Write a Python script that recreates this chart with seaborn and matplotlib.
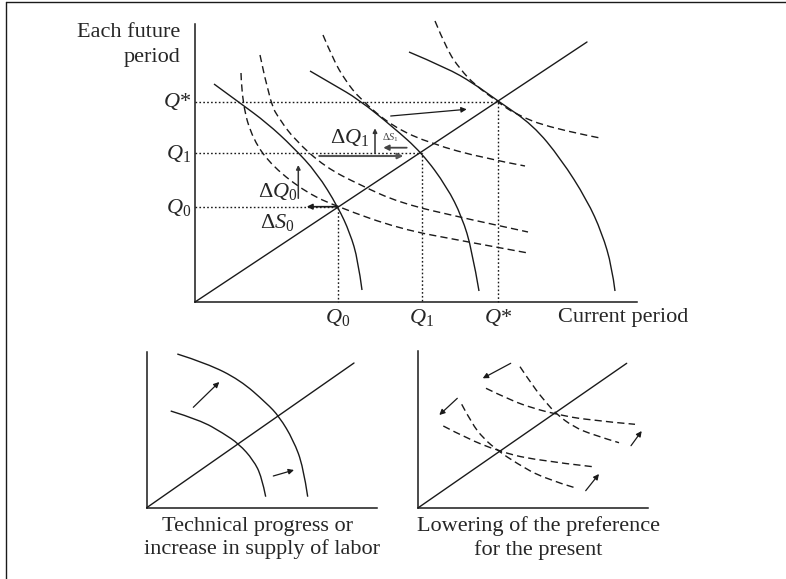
import numpy as np
import matplotlib
matplotlib.use('Agg')
import matplotlib.pyplot as plt
import seaborn as sns
from matplotlib.path import Path
from matplotlib.patches import PathPatch
from matplotlib.lines import Line2D

# ---- main panel (units = px from the origin) ----
diag_main = [(0, 0), (392, 260)]
eq_x = [143, 227, 303]          # Q0, Q1, Q*
eq_y = [94.7, 149.3, 200.5]
eq_labels = [r'$Q_0$', r'$Q_1$', r'$Q$*']

ppf1 = [(19, 218), (45, 199), (72, 179), (98, 155), (122, 129), (143, 95), (155, 69), (163, 42), (167, 12)]
ppf2 = [(115, 231), (139, 217), (163, 203), (198, 175), (227, 149), (252, 115), (267, 85), (277, 52), (284, 11)]
ppf3 = [(214, 250), (252, 234), (278, 219), (303, 201), (338, 177), (366, 143), (392, 102), (407, 69), (417, 35), (420, 11)]

ic_a = [(46, 229), (47, 199), (58, 162), (78, 135), (112, 109), (143, 95), (205, 73), (268, 61), (333, 49)]
ic_b = [(65, 247), (75, 199), (85, 182), (100, 162), (130, 135), (165, 117), (205, 99), (268, 84), (333, 70)]
ic_c = [(128, 267), (138, 243), (150, 222), (165, 203), (198, 175), (237, 158), (288, 144), (330, 136)]
ic_d = [(240, 281), (252, 252), (265, 233), (280, 217), (303, 200), (320, 188), (355, 174), (405, 164)]

# ---- bottom left: technical progress ----
diag_bl = [(0, 0), (207.3, 144.7)]
ppf_bl_in = [(24, 96.7), (53.3, 87.7), (76.6, 74.4), (92.3, 63.7), (106.6, 47.7), (115, 31), (119, 11)]
ppf_bl_out = [(30.6, 153.7), (60, 144.4), (93.3, 127.7), (120, 104.4), (132.6, 91), (146.6, 67.7), (156.6, 41), (161, 11)]
arrows_bl = [((46.6, 100.4), (72.6, 125.7)), ((126.6, 31.7), (147.3, 37.7))]

# ---- bottom right: lower preference for the present ----
diag_br = [(0, 0), (208.4, 144.4)]
ic_up_steep = [(101.7, 141), (115, 121), (128.4, 104.4), (138.4, 93.4), (155, 81), (175, 72.7), (200.7, 65)]
ic_up_flat = [(67.7, 119.4), (91.7, 107.7), (115, 99.4), (138.4, 93.4), (168.4, 87.7), (216.7, 83.4)]
ic_lo_steep = [(43.4, 103.4), (53.4, 84.4), (65, 69.4), (80, 56.7), (98.4, 44.4), (125, 29.4), (158.4, 19.4)]
ic_lo_flat = [(25, 81.7), (48.4, 69.4), (80, 56.7), (115, 47.7), (174.4, 41)]
arrows_br = [((92.4, 144.4), (64.4, 129.4)), ((39, 109.4), (21, 92.7)),
             ((212.7, 62), (223.4, 76.7)), ((167.4, 17), (180.7, 33.7))]

sns.set_theme(style='white')
plt.rcParams['font.family'] = ['Liberation Serif', 'DejaVu Serif']
plt.rcParams['mathtext.fontset'] = 'custom'
plt.rcParams['mathtext.rm'] = 'Liberation Serif'
plt.rcParams['mathtext.it'] = 'Liberation Serif:italic'

FS = 16
DASH = (0, (5.2, 3))
DOT = (0, (1.2, 1.6))


def curve(ax, pts, ls='-', lw=1.0):
    pts = np.asarray(pts, float)
    verts, codes = [pts[0]], [Path.MOVETO]
    for i in range(1, len(pts) - 2):
        verts += [pts[i], (pts[i] + pts[i + 1]) / 2]
        codes += [Path.CURVE3, Path.CURVE3]
    verts += [pts[-2], pts[-1]]
    codes += [Path.CURVE3, Path.CURVE3]
    ax.add_patch(PathPatch(Path(verts, codes), fill=False, lw=lw, ls=ls,
                           edgecolor='k', clip_on=False, capstyle='butt'))


def line(ax, pts, ls='-', lw=1.0, color='k'):
    xs, ys = zip(*pts)
    sns.lineplot(x=list(xs), y=list(ys), ax=ax, color=color, lw=lw, ls=ls,
                 sort=False, estimator=None, clip_on=False)


def arrow(ax, start, end, lw=0.9, color='k', ms=8):
    ax.annotate('', xy=end, xytext=start,
                arrowprops=dict(arrowstyle='-|>', lw=lw, color=color,
                                mutation_scale=ms, shrinkA=0, shrinkB=0))


def setup(ax, w, h):
    ax.set_xlim(0, w)
    ax.set_ylim(0, h)
    sns.despine(ax=ax)
    for s in ['left', 'bottom']:
        ax.spines[s].set_color('k')
        ax.spines[s].set_linewidth(1.1)
    ax.set_xticks([])
    ax.set_yticks([])
    ax.patch.set_alpha(0)


fig = plt.figure(figsize=(7.86, 5.79), dpi=100)
W, H = 786, 579

ax = fig.add_axes([195 / W, (H - 302) / H, 442 / W, 278 / H])
setup(ax, 442, 278)
axl = fig.add_axes([146.7 / W, (H - 507.7) / H, 230 / W, 156 / H])
setup(axl, 230, 156)
axr = fig.add_axes([418.3 / W, (H - 507.7) / H, 230 / W, 156.7 / H])
setup(axr, 230, 156.7)

# frame
fig.add_artist(Line2D([6 / W, 1], [1 - 2 / H, 1 - 2 / H], color='k', lw=1.0))
fig.add_artist(Line2D([6 / W, 6 / W], [0, 1 - 2 / H], color='k', lw=1.0))

# main panel
line(ax, diag_main)
for qx, qy, lab in zip(eq_x, eq_y, eq_labels):
    line(ax, [(0, qy), (qx, qy), (qx, 0)], ls=DOT, lw=1.0)
    ax.text(-4, qy - 6, lab, ha='right', va='baseline', fontsize=FS)
    ax.text(qx, -21, lab, ha='center', va='baseline', fontsize=FS)
for p in [ppf1, ppf2, ppf3]:
    curve(ax, p)
for c in [ic_a, ic_b, ic_c, ic_d]:
    curve(ax, c, ls=DASH)

arrow(ax, (195.7, 186), (271.7, 192.7))
arrow(ax, (124.3, 146), (208.3, 146), lw=1.5, color='#555555')
arrow(ax, (211.7, 154.3), (188.3, 154.3), lw=1.3, color='#444444')
arrow(ax, (180, 148.7), (180, 173.7), lw=1.1, color='#333333', ms=6)
arrow(ax, (103.3, 103.7), (103.3, 137), lw=1.1, color='#333333', ms=6)
arrow(ax, (143.3, 95.3), (111.7, 95.3), lw=1.2)

ax.text(135.5, 158.7, r'Δ$Q_1$', fontsize=FS, va='baseline')
ax.text(186.7, 162, r'Δ$S_1$', fontsize=7.5, va='baseline', color='#444444')
ax.text(63, 105.3, r'Δ$Q_0$', fontsize=FS, va='baseline')
ax.text(65.5, 73.7, r'Δ$S_0$', fontsize=FS, va='baseline')

ax.text(-15, 265.3, 'Each future', ha='right', va='baseline', fontsize=FS)
ax.text(-15, 240.3, 'period', ha='right', va='baseline', fontsize=FS)
ax.text(363, -19.7, 'Current period', ha='left', va='baseline', fontsize=FS)

# bottom left
line(axl, diag_bl)
curve(axl, ppf_bl_in)
curve(axl, ppf_bl_out)
for s, e in arrows_bl:
    arrow(axl, s, e)
axl.text(111.3, -23, 'Technical progress or', ha='center', va='baseline', fontsize=FS)
axl.text(115.3, -46.6, 'increase in supply of labor', ha='center', va='baseline', fontsize=FS)

# bottom right
line(axr, diag_br)
for c in [ic_up_steep, ic_up_flat, ic_lo_steep, ic_lo_flat]:
    curve(axr, c, ls=DASH)
for s, e in arrows_br:
    arrow(axr, s, e)
axr.text(119.7, -23.3, 'Lowering of the preference', ha='center', va='baseline', fontsize=FS)
axr.text(119.7, -47.3, 'for the present', ha='center', va='baseline', fontsize=FS)

fig.savefig('out.png', dpi=100)
